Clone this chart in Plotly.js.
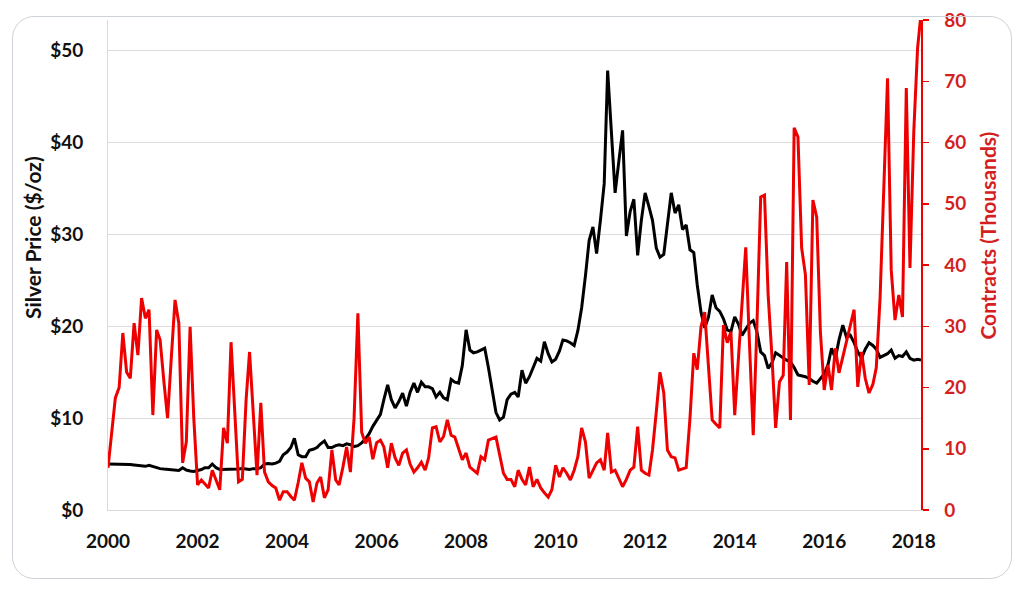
<!DOCTYPE html>
<html>
<head>
<meta charset="utf-8">
<script src="https://cdn.plot.ly/plotly-3.0.1.min.js"></script>
<style>
  body { margin: 0; background: #fff; }
  #frame {
    position: absolute; left: 12px; top: 16px; width: 998px; height: 561px;
    border: 1.5px solid #cdd2d8; border-radius: 22px; pointer-events: none;
  }
  #chart { position: absolute; left: 0; top: 0; width: 1024px; height: 590px; }
</style>
</head>
<body>
<div id="chart"></div>
<div id="frame"></div>
<script>
// monthly, Jan 2000 .. Mar 2018
var startYear = 2000;

// silver price, $/oz
var silverPrice = [
  5.0, 5.0, 5.0, 5.0, 5.0, 5.0, 4.95, 4.9, 4.85, 4.8, 4.75, 4.85,
  4.7, 4.6, 4.5, 4.45, 4.4, 4.35, 4.3, 4.3, 4.6, 4.35, 4.25, 4.2,
  4.3, 4.4, 4.6, 4.6, 5.0, 4.6, 4.4, 4.4, 4.45, 4.4, 4.4, 4.45,
  4.5, 4.45, 4.4, 4.5, 4.5, 4.6, 5.0, 5.05, 5.0, 5.1, 5.3, 6.0,
  6.3, 6.8, 7.8, 6.0, 5.8, 5.8, 6.5, 6.6, 6.8, 7.2, 7.5, 6.8,
  6.8, 7.0, 7.1, 7.0, 7.2, 7.1, 6.9, 7.0, 7.3, 7.7, 8.3, 9.1,
  9.7, 10.4, 12.0, 13.6, 12.0, 11.1, 11.8, 12.7, 11.3, 12.8, 13.8, 12.8,
  13.9, 13.4, 13.4, 13.2, 12.3, 12.8, 12.2, 12.0, 14.2, 13.9, 13.8, 15.7,
  19.6, 17.4, 17.1, 17.2, 17.4, 17.6, 15.5, 13.0, 10.6, 9.8, 10.1, 12.0,
  12.6, 12.8, 12.3, 15.2, 13.8, 14.5, 15.6, 16.5, 16.2, 18.3, 17.0, 16.1,
  16.4, 17.3, 18.5, 18.4, 18.2, 17.9, 19.5, 22.0, 25.5, 29.3, 30.8, 27.9,
  31.5, 35.5, 47.8, 41.0, 34.5, 38.0, 41.3, 29.8, 32.5, 33.8, 27.7, 31.5,
  34.5, 33.0, 31.5, 28.5, 27.5, 27.8, 31.0, 34.5, 32.3, 33.2, 30.5, 31.0,
  28.3, 28.0, 24.5, 21.5, 19.8, 21.0, 23.4, 22.0, 21.6, 20.8, 19.6, 19.4,
  21.0, 20.2, 19.0, 19.6, 20.3, 20.6, 19.4, 17.2, 16.8, 15.4, 16.0, 17.1,
  16.8, 16.5, 16.3, 16.1, 15.5, 14.7, 14.6, 14.5, 14.3, 14.0, 13.8, 14.3,
  14.8, 15.8, 17.6, 16.5, 18.5, 20.1, 18.8, 19.0, 18.2, 17.2, 16.5, 17.5,
  18.2, 17.9, 17.5, 16.6, 16.8, 17.0, 17.4, 16.5, 16.8, 16.7, 17.2, 16.5,
  16.3, 16.4, 16.3
];

// contracts, thousands
var contracts = [
  6.9, 12.5, 18.3, 20.0, 28.9, 22.5, 21.5, 30.5, 25.3, 34.6, 31.3, 32.7,
  15.5, 29.4, 27.8, 21.0, 15.0, 25.0, 34.3, 30.5, 7.7, 11.1, 29.9, 15.0,
  4.1, 4.9, 4.2, 3.6, 6.5, 4.8, 3.3, 13.4, 10.9, 27.4, 15.0, 4.6,
  5.0, 18.0, 25.8, 15.0, 5.7, 17.5, 6.2, 4.6, 4.0, 3.6, 1.6, 3.0,
  3.0, 2.2, 1.6, 4.5, 7.7, 5.2, 4.6, 1.3, 4.4, 5.4, 2.0, 3.3,
  9.8, 4.9, 4.1, 7.0, 10.3, 6.2, 15.0, 32.1, 12.7, 10.9, 11.9, 8.3,
  11.0, 11.4, 10.3, 6.9, 10.9, 8.5, 7.3, 9.3, 9.8, 7.5, 6.2, 6.9,
  7.8, 6.5, 8.5, 13.4, 13.6, 11.1, 12.0, 14.7, 12.2, 11.9, 10.0, 8.2,
  9.3, 7.0, 6.5, 6.0, 8.7, 8.2, 11.4, 11.6, 11.9, 9.0, 6.0, 5.0,
  5.0, 3.8, 6.5, 5.0, 4.1, 7.0, 3.8, 5.0, 3.6, 2.8, 2.1, 3.3,
  7.3, 5.4, 6.9, 6.0, 4.9, 6.5, 8.7, 13.4, 11.1, 5.2, 6.5, 7.7,
  8.2, 6.5, 12.6, 6.2, 6.5, 5.0, 3.8, 5.0, 6.5, 7.0, 13.6, 6.5,
  6.0, 5.7, 9.8, 16.0, 22.5, 19.1, 9.8, 8.7, 8.5, 6.5, 6.7, 6.9,
  15.0, 25.6, 22.9, 29.9, 32.3, 23.0, 14.7, 14.0, 13.4, 30.2, 27.3, 29.1,
  15.5, 25.0, 34.0, 42.9, 27.3, 12.2, 30.0, 51.1, 51.4, 35.0, 25.0, 13.4,
  20.9, 22.0, 40.5, 14.7, 62.4, 60.9, 42.8, 38.4, 20.4, 50.6, 47.8, 29.1,
  19.6, 23.7, 19.6, 26.4, 22.4, 25.0, 27.8, 30.5, 32.7, 20.1, 25.8, 21.5,
  19.1, 20.5, 23.2, 34.6, 52.0, 70.5, 39.2, 31.0, 35.1, 31.5, 68.9, 39.5,
  61.7, 75.4, 81.0
];

var priceTicks = [0, 10, 20, 30, 40, 50];
var priceTickText = ['$0', '$10', '$20', '$30', '$40', '$50'];

var months = silverPrice.map(function (v, i) {
  var y = startYear + Math.floor(i / 12);
  var m = (i % 12) + 1;
  return y + '-' + (m < 10 ? '0' + m : m) + '-01';
});

var red = '#ee0000';
var redText = '#d41f1f';
var tickFont = {family: 'Lato, sans-serif', size: 19, color: '#111', weight: 'bold'};

var traces = [
  {
    x: months, y: silverPrice, type: 'scatter', mode: 'lines',
    line: {color: '#000', width: 3}, name: 'Silver Price'
  },
  {
    x: months, y: contracts, type: 'scatter', mode: 'lines', yaxis: 'y2',
    line: {color: red, width: 3}, name: 'Contracts'
  }
];

var layout = {
  width: 1024, height: 590,
  margin: {l: 108, r: 103, t: 20, b: 80},
  paper_bgcolor: 'rgba(0,0,0,0)', plot_bgcolor: 'rgba(0,0,0,0)',
  showlegend: false,
  xaxis: {
    type: 'date', range: ['2000-01-01', '2018-03-01'],
    tick0: '2000-01-01', dtick: 'M24', tickformat: '%Y',
    showgrid: false, zeroline: false,
    showline: true, linecolor: '#d9d9d9', linewidth: 1,
    ticks: '', ticklabelstandoff: 14,
    tickfont: tickFont
  },
  yaxis: {
    range: [0, 53.3], tickvals: priceTicks, ticktext: priceTickText,
    showgrid: true, gridcolor: '#dcdcdc', gridwidth: 1, zeroline: false,
    showline: true, linecolor: '#d9d9d9', linewidth: 1,
    ticks: '', ticklabelstandoff: 20,
    tickfont: tickFont
  },
  yaxis2: {
    overlaying: 'y', side: 'right', range: [0, 80], dtick: 10,
    showgrid: false, zeroline: false,
    showline: true, linecolor: red, linewidth: 1.5,
    ticks: 'outside', ticklen: 6, tickcolor: red, tickwidth: 1.5,
    ticklabelstandoff: 12,
    tickfont: {family: 'Lato, sans-serif', size: 19, color: redText, weight: 'bold'}
  },
  annotations: [
    {
      text: 'Silver Price ($/oz)', xref: 'paper', yref: 'paper',
      x: -0.0935, y: 0.557, textangle: -90, showarrow: false,
      xanchor: 'center', yanchor: 'middle',
      font: {family: 'Lato, sans-serif', size: 21, color: '#111', weight: 'bold'}
    },
    {
      text: 'Contracts (Thousands)', xref: 'paper', yref: 'paper',
      x: 1.0824, y: 0.56, textangle: -90, showarrow: false,
      xanchor: 'center', yanchor: 'middle',
      font: {family: 'Lato, sans-serif', size: 21, color: redText, weight: 'bold'}
    }
  ]
};

Plotly.newPlot('chart', traces, layout, {displayModeBar: false, staticPlot: true});
</script>
</body>
</html>
